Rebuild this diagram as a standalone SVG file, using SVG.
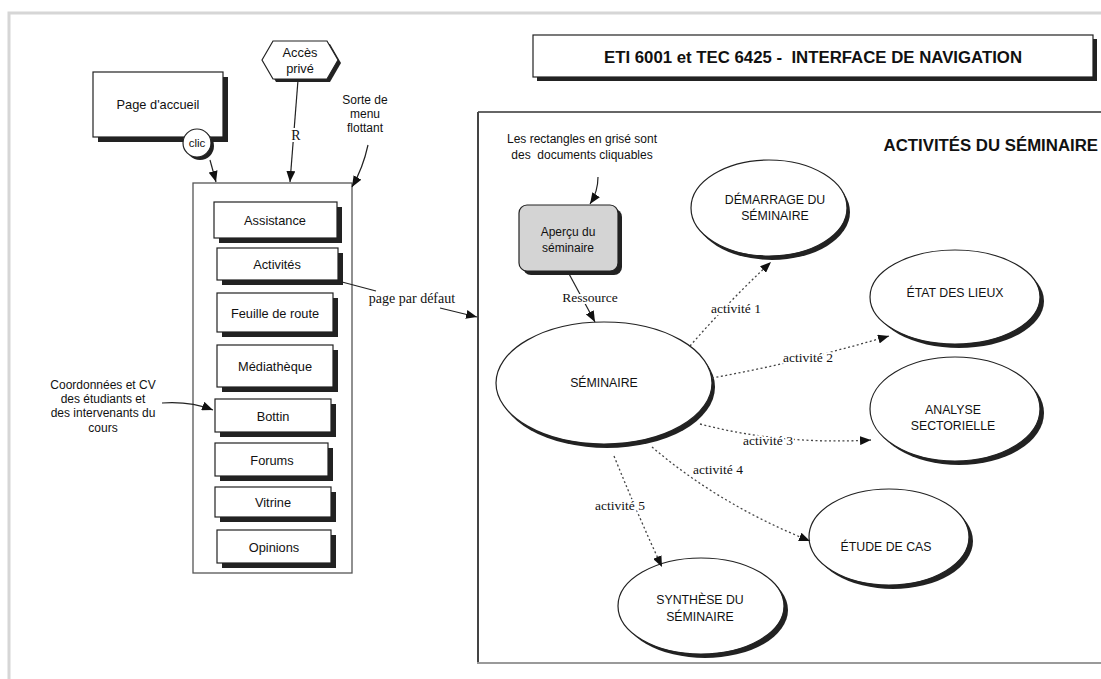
<svg xmlns="http://www.w3.org/2000/svg" width="1101" height="679" viewBox="0 0 1101 679">
<defs>
<marker id="arr" viewBox="0 0 11 9" refX="11" refY="4.5" markerWidth="11" markerHeight="9" markerUnits="userSpaceOnUse" orient="auto">
<path d="M0,0 L11,4.5 L0,9 Z" fill="#111"/>
</marker>
<style>
.sans{font-family:"Liberation Sans",Arial,sans-serif;fill:#111;}
.serif{font-family:"Liberation Serif","Times New Roman",serif;fill:#111;}
.box{fill:#fff;stroke:#222;stroke-width:1.2;}
.sh{fill:#222;}
.t12{font-size:12px;text-anchor:middle;}
.t13{font-size:12.8px;text-anchor:middle;}
.t11{font-size:12.3px;text-anchor:middle;}
.lbl{font-size:13.5px;text-anchor:middle;stroke:#fff;stroke-width:4;paint-order:stroke;}
.ln{fill:none;stroke:#222;stroke-width:1.2;}
.dot{fill:none;stroke:#444;stroke-width:1.3;stroke-dasharray:2,2.5;}
</style>
</defs>
<rect x="0" y="0" width="1101" height="679" fill="#fff"/>
<path d="M9,679 L9,13 L1101,13" fill="none" stroke="#d6d6d6" stroke-width="3"/>

<!-- Title -->
<g id="title">
<rect class="sh" x="537" y="39" width="560" height="42"/>
<rect class="box" x="533" y="35" width="560" height="42"/>
<text class="sans" x="813" y="63" style="font-size:16.8px;font-weight:bold;text-anchor:middle" xml:space="preserve">ETI 6001 et TEC 6425 -  INTERFACE DE NAVIGATION</text>
</g>

<!-- Right panel -->
<g id="panel">
<path d="M478,112 L1101,112" stroke="#333" stroke-width="1.5" fill="none"/>
<path d="M478,112 L478,663" stroke="#444" stroke-width="2" fill="none"/>
<path d="M477,663 L1101,663" stroke="#9a9a9a" stroke-width="2" fill="none"/>
<text class="sans" x="1098" y="151" style="font-size:16.8px;font-weight:bold;text-anchor:end">ACTIVITÉS DU SÉMINAIRE</text>
<text class="sans t12" x="582" y="143">Les rectangles en grisé sont</text>
<text class="sans t12" x="582" y="159" xml:space="preserve">des  documents cliquables</text>
</g>

<!-- Left side nodes -->
<g id="page-accueil">
<rect class="sh" x="98" y="77" width="130" height="65"/>
<rect class="box" x="93" y="72" width="130" height="65"/>
<text class="sans t13" x="158" y="109">Page d'accueil</text>
</g>
<g id="clic">
<circle class="sh" cx="200" cy="146" r="14"/>
<circle class="box" cx="197" cy="143" r="14"/>
<text class="sans" x="197" y="147" style="font-size:11.5px;text-anchor:middle">clic</text>
</g>
<g id="acces-prive">
<polygon class="sh" points="265,63 276,44 330,44 341,63 330,82 276,82"/>
<polygon class="box" points="262,60 273,41 327,41 338,60 327,79 273,79"/>
<text class="sans t13" x="300" y="57">Accès</text>
<text class="sans t13" x="300" y="73">privé</text>
</g>
<g id="sorte-menu">
<text class="sans t12" x="365" y="104">Sorte de</text>
<text class="sans t12" x="365" y="118">menu</text>
<text class="sans t12" x="365" y="132">flottant</text>
</g>
<g id="coordonnees">
<text class="sans t12" x="103" y="389">Coordonnées et CV</text>
<text class="sans t12" x="103" y="403">des étudiants et</text>
<text class="sans t12" x="103" y="417">des intervenants du</text>
<text class="sans t12" x="103" y="432">cours</text>
</g>

<g id="menu">
<rect x="193" y="183" width="159" height="390" fill="#fff" stroke="#555" stroke-width="1.3"/>
</g>
<g id="assistance">
<rect class="sh" x="219" y="207" width="123" height="36"/>
<rect class="box" x="214" y="202" width="123" height="36"/>
<text class="sans t13" x="275" y="225">Assistance</text>
</g>
<g id="activites">
<rect class="sh" x="222" y="253" width="121" height="32"/>
<rect class="box" x="217" y="248" width="121" height="32"/>
<text class="sans t13" x="277" y="269">Activités</text>
</g>
<g id="feuille">
<rect class="sh" x="222" y="298" width="116" height="39"/>
<rect class="box" x="217" y="293" width="116" height="39"/>
<text class="sans t13" x="275" y="318">Feuille de route</text>
</g>
<g id="mediatheque">
<rect class="sh" x="222" y="350" width="116" height="42"/>
<rect class="box" x="217" y="345" width="116" height="42"/>
<text class="sans t13" x="275" y="371">Médiathèque</text>
</g>
<g id="bottin">
<rect class="sh" x="220" y="404" width="116" height="33"/>
<rect class="box" x="215" y="399" width="116" height="33"/>
<text class="sans t13" x="273" y="421">Bottin</text>
</g>
<g id="forums">
<rect class="sh" x="220" y="448" width="113" height="33"/>
<rect class="box" x="215" y="443" width="113" height="33"/>
<text class="sans t13" x="272" y="465">Forums</text>
</g>
<g id="vitrine">
<rect class="sh" x="220" y="492" width="116" height="30"/>
<rect class="box" x="215" y="487" width="116" height="30"/>
<text class="sans t13" x="273" y="507">Vitrine</text>
</g>
<g id="opinions">
<rect class="sh" x="222" y="535" width="114" height="33"/>
<rect class="box" x="217" y="530" width="114" height="33"/>
<text class="sans t13" x="274" y="552">Opinions</text>
</g>

<!-- Right nodes -->
<g id="apercu">
<rect class="sh" x="523" y="209" width="99" height="66" rx="8"/>
<rect x="519" y="205" width="99" height="66" rx="8" fill="#d4d4d4" stroke="#222" stroke-width="1.2"/>
<text class="sans t12" x="568" y="236">Aperçu du</text>
<text class="sans t12" x="568" y="252">séminaire</text>
</g>
<g id="seminaire">
<ellipse class="sh" cx="607" cy="387" rx="108" ry="61"/>
<ellipse class="box" cx="604" cy="383" rx="108" ry="61"/>
<text class="sans t11" x="604" y="387">SÉMINAIRE</text>
</g>
<g id="demarrage">
<ellipse class="sh" cx="772" cy="212" rx="78" ry="48"/>
<ellipse class="box" cx="769" cy="208" rx="78" ry="48"/>
<text class="sans t11" x="775" y="204">DÉMARRAGE DU</text>
<text class="sans t11" x="775" y="220">SÉMINAIRE</text>
</g>
<g id="etat">
<ellipse class="sh" cx="959" cy="301" rx="85" ry="47"/>
<ellipse class="box" cx="955" cy="297" rx="85" ry="47"/>
<text class="sans t11" x="955" y="297">ÉTAT DES LIEUX</text>
</g>
<g id="analyse">
<ellipse class="sh" cx="959" cy="413" rx="85" ry="52"/>
<ellipse class="box" cx="955" cy="409" rx="85" ry="52"/>
<text class="sans t11" x="953" y="414">ANALYSE</text>
<text class="sans t11" x="953" y="430">SECTORIELLE</text>
</g>
<g id="etude">
<ellipse class="sh" cx="893" cy="541" rx="80" ry="48"/>
<ellipse class="box" cx="889" cy="537" rx="80" ry="48"/>
<text class="sans t11" x="886" y="551">ÉTUDE DE CAS</text>
</g>
<g id="synthese">
<ellipse class="sh" cx="705" cy="610" rx="83" ry="48"/>
<ellipse class="box" cx="701" cy="606" rx="83" ry="48"/>
<text class="sans t11" x="700" y="604">SYNTHÈSE DU</text>
<text class="sans t11" x="700" y="621">SÉMINAIRE</text>
</g>

<!-- Connectors -->
<g id="connectors">
<path class="ln" d="M210,160 L216,182" marker-end="url(#arr)"/>
<path class="ln" d="M298,80 L290,182" marker-end="url(#arr)"/>
<text class="serif lbl" x="296" y="140" style="font-size:14px">R</text>
<path class="ln" d="M368,145 Q363,168 352,187" marker-end="url(#arr)"/>
<path class="ln" d="M342,282 L376,291"/>
<path class="ln" d="M440,308 L477,317" marker-end="url(#arr)"/>
<text class="serif" x="412" y="303" style="font-size:14px;text-anchor:middle">page par défaut</text>
<path class="ln" d="M162,403 Q190,401 213,410" marker-end="url(#arr)"/>
<path class="ln" d="M598,177 Q598,192 590,204" marker-end="url(#arr)"/>
<path class="ln" d="M568,272 L595,322" marker-end="url(#arr)"/>
<text class="serif lbl" x="590" y="302">Ressource</text>
<path class="dot" d="M690,346 Q730,300 771,262" marker-end="url(#arr)"/>
<text class="serif lbl" x="736" y="313">activité 1</text>
<path class="dot" d="M712,378 Q800,362 889,336" marker-end="url(#arr)"/>
<text class="serif lbl" x="808" y="362">activité 2</text>
<path class="dot" d="M700,424 Q780,445 871,440" marker-end="url(#arr)"/>
<text class="serif lbl" x="768" y="445">activité 3</text>
<path class="dot" d="M652,447 Q720,505 810,541" marker-end="url(#arr)"/>
<text class="serif lbl" x="718" y="474">activité 4</text>
<path class="dot" d="M614,456 Q640,520 662,567" marker-end="url(#arr)"/>
<text class="serif lbl" x="620" y="510">activité 5</text>
</g>
</svg>
